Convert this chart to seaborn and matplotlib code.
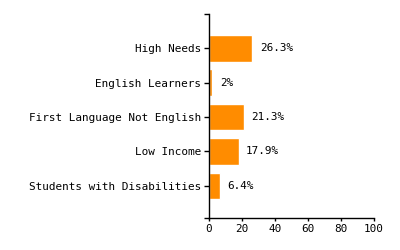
import matplotlib
matplotlib.use("Agg")
import matplotlib.pyplot as plt
import seaborn as sns
import pandas as pd

categories = ["High Needs", "English Learners", "First Language Not English",
              "Low Income", "Students with Disabilities"]
values = [26.3, 2.0, 21.3, 17.9, 6.4]
value_labels = ["26.3%", "2%", "21.3%", "17.9%", "6.4%"]
x_ticks = [0, 20, 40, 60, 80, 100]

sns.set_style("white")
plt.rcParams['font.family'] = ['DejaVu Sans Mono', 'DejaVu Sans']

df = pd.DataFrame({"cat": categories, "val": values})

fig = plt.figure(figsize=(4, 2.5), dpi=100)
ax = fig.add_axes([209/400, 1-218/250, (374-209)/400, (218-14)/250])
sns.barplot(data=df, x="val", y="cat", color="#FF8C00", saturation=1,
            width=0.78, ax=ax, orient="h")

ylo, yhi = 4.93, -0.99
ax.set_xlim(0, 100)
ax.set_ylim(ylo, yhi)
ax.set_yticks([yhi, ylo], minor=True)
ax.set_xticks(x_ticks)
ax.set_xticklabels([str(t) for t in x_ticks], fontsize=7.9)
ax.set_xlabel("")
ax.set_ylabel("")
ax.tick_params(axis='y', which='both', labelsize=7.9, length=3.5, width=1, pad=2,
               left=True, color='black', labelcolor='black')
ax.tick_params(axis='x', length=2.5, width=1, pad=1.5, bottom=True, color='black',
               labelcolor='black')
for s in ["top", "right"]:
    ax.spines[s].set_visible(False)
for s in ["left", "bottom"]:
    ax.spines[s].set_color("black")
    ax.spines[s].set_linewidth(1)

for i, (v, lab) in enumerate(zip(values, value_labels)):
    ax.text(v + 4.5, i, lab, va="center", ha="left", fontsize=7.9, color="black")

fig.savefig("out.png", dpi=100)
